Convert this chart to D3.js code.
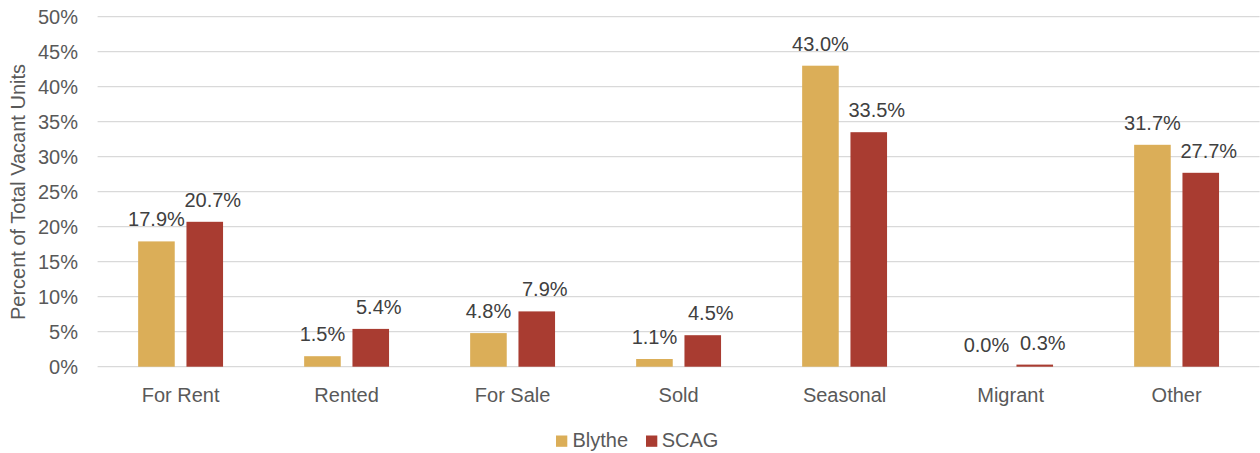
<!DOCTYPE html>
<html>
<head>
<meta charset="utf-8">
<script src="https://cdn.jsdelivr.net/npm/d3@7/dist/d3.min.js"></script>
<style>
  html, body { margin: 0; padding: 0; background: #fff; }
  svg { display: block; }
  text { font-family: "Liberation Sans", Arial, sans-serif; }
</style>
</head>
<body>
<svg id="chart" width="1260" height="453"></svg>
<script>
const categories = ["For Rent", "Rented", "For Sale", "Sold", "Seasonal", "Migrant", "Other"];
const seriesNames = ["Blythe", "SCAG"];
const blytheValues = [17.9, 1.5, 4.8, 1.1, 43.0, 0.0, 31.7];
const scagValues = [20.7, 5.4, 7.9, 4.5, 33.5, 0.3, 27.7];
const yTicks = [0, 5, 10, 15, 20, 25, 30, 35, 40, 45, 50];
const yTitle = "Percent of Total Vacant Units";

const colors = { Blythe: "#DBAE58", SCAG: "#A93C31" };
const seriesValues = { Blythe: blytheValues, SCAG: scagValues };

const svg = d3.select("#chart");
const margin = { left: 97.6, right: 0.4, top: 16.7, bottom: 86.3 };
const W = 1260, H = 453;

const x = d3.scaleBand().domain(categories).range([margin.left, W - margin.right]).paddingInner(0).paddingOuter(0);
const barW = 37.3, gap = 10.3;
const groupW = barW * 2 + gap;
const x1 = d3.scaleBand().domain(seriesNames).range([0, groupW]).paddingInner(gap / (groupW / 2)).paddingOuter(0);

const y = d3.scaleLinear().domain([0, 50]).range([H - margin.bottom, margin.top]);

// gridlines
svg.append("g").selectAll("line").data(yTicks).join("line")
  .attr("x1", margin.left).attr("x2", W - margin.right)
  .attr("y1", d => y(d)).attr("y2", d => y(d))
  .attr("stroke", "#D9D9D9").attr("stroke-width", 1.3);

// y axis labels
const yAxis = d3.axisLeft(y).tickValues(yTicks).tickFormat(d => d + "%").tickSize(0).tickPadding(0);
const gy = svg.append("g").attr("transform", `translate(78,0)`).call(yAxis);
gy.select(".domain").remove();
gy.selectAll("text").attr("font-size", 20).attr("fill", "#595959")
  .attr("font-family", "'Liberation Sans', Arial, sans-serif").attr("dy", "0.36em");

// y title
svg.append("text")
  .attr("transform", `translate(24.5, 192) rotate(-90)`)
  .attr("text-anchor", "middle").attr("font-size", 20).attr("fill", "#595959")
  .text(yTitle);

// x axis labels
const xAxis = d3.axisBottom(x).tickSize(0).tickPadding(0);
const gx = svg.append("g").attr("transform", `translate(0,401.5)`).call(xAxis);
gx.select(".domain").remove();
gx.selectAll("text").attr("font-size", 20).attr("fill", "#595959")
  .attr("font-family", "'Liberation Sans', Arial, sans-serif").attr("dy", 0);

// bars
const data = [];
categories.forEach((c, i) => {
  seriesNames.forEach(s => data.push({ cat: c, series: s, value: seriesValues[s][i] }));
});
const groupOffset = (x.bandwidth() - groupW) / 2;

svg.append("g").selectAll("rect").data(data).join("rect")
  .attr("x", d => x(d.cat) + groupOffset + x1(d.series))
  .attr("width", x1.bandwidth())
  .attr("y", d => y(d.value))
  .attr("height", d => Math.max(0, y(0) - y(d.value)))
  .attr("fill", d => colors[d.series]);

// data labels
const labelShift = { Blythe: 0, SCAG: 8 };
svg.append("g").selectAll("text").data(data).join("text")
  .attr("x", d => x(d.cat) + groupOffset + x1(d.series) + x1.bandwidth() / 2 + labelShift[d.series])
  .attr("y", d => y(d.value) - 15)
  .attr("text-anchor", "middle").attr("font-size", 20).attr("fill", "#404040")
  .text(d => d.value.toFixed(1) + "%");

// legend
const legendItems = [
  { name: "Blythe", sx: 556, tx: 572.5 },
  { name: "SCAG", sx: 646, tx: 661.7 }
];
const lg = svg.append("g");
lg.selectAll("rect").data(legendItems).join("rect")
  .attr("x", d => d.sx).attr("y", 435.5).attr("width", 11.3).attr("height", 11.3)
  .attr("fill", d => colors[d.name]);
lg.selectAll("text").data(legendItems).join("text")
  .attr("x", d => d.tx).attr("y", 447)
  .attr("font-size", 20).attr("fill", "#595959")
  .text(d => d.name);
</script>
</body>
</html>
